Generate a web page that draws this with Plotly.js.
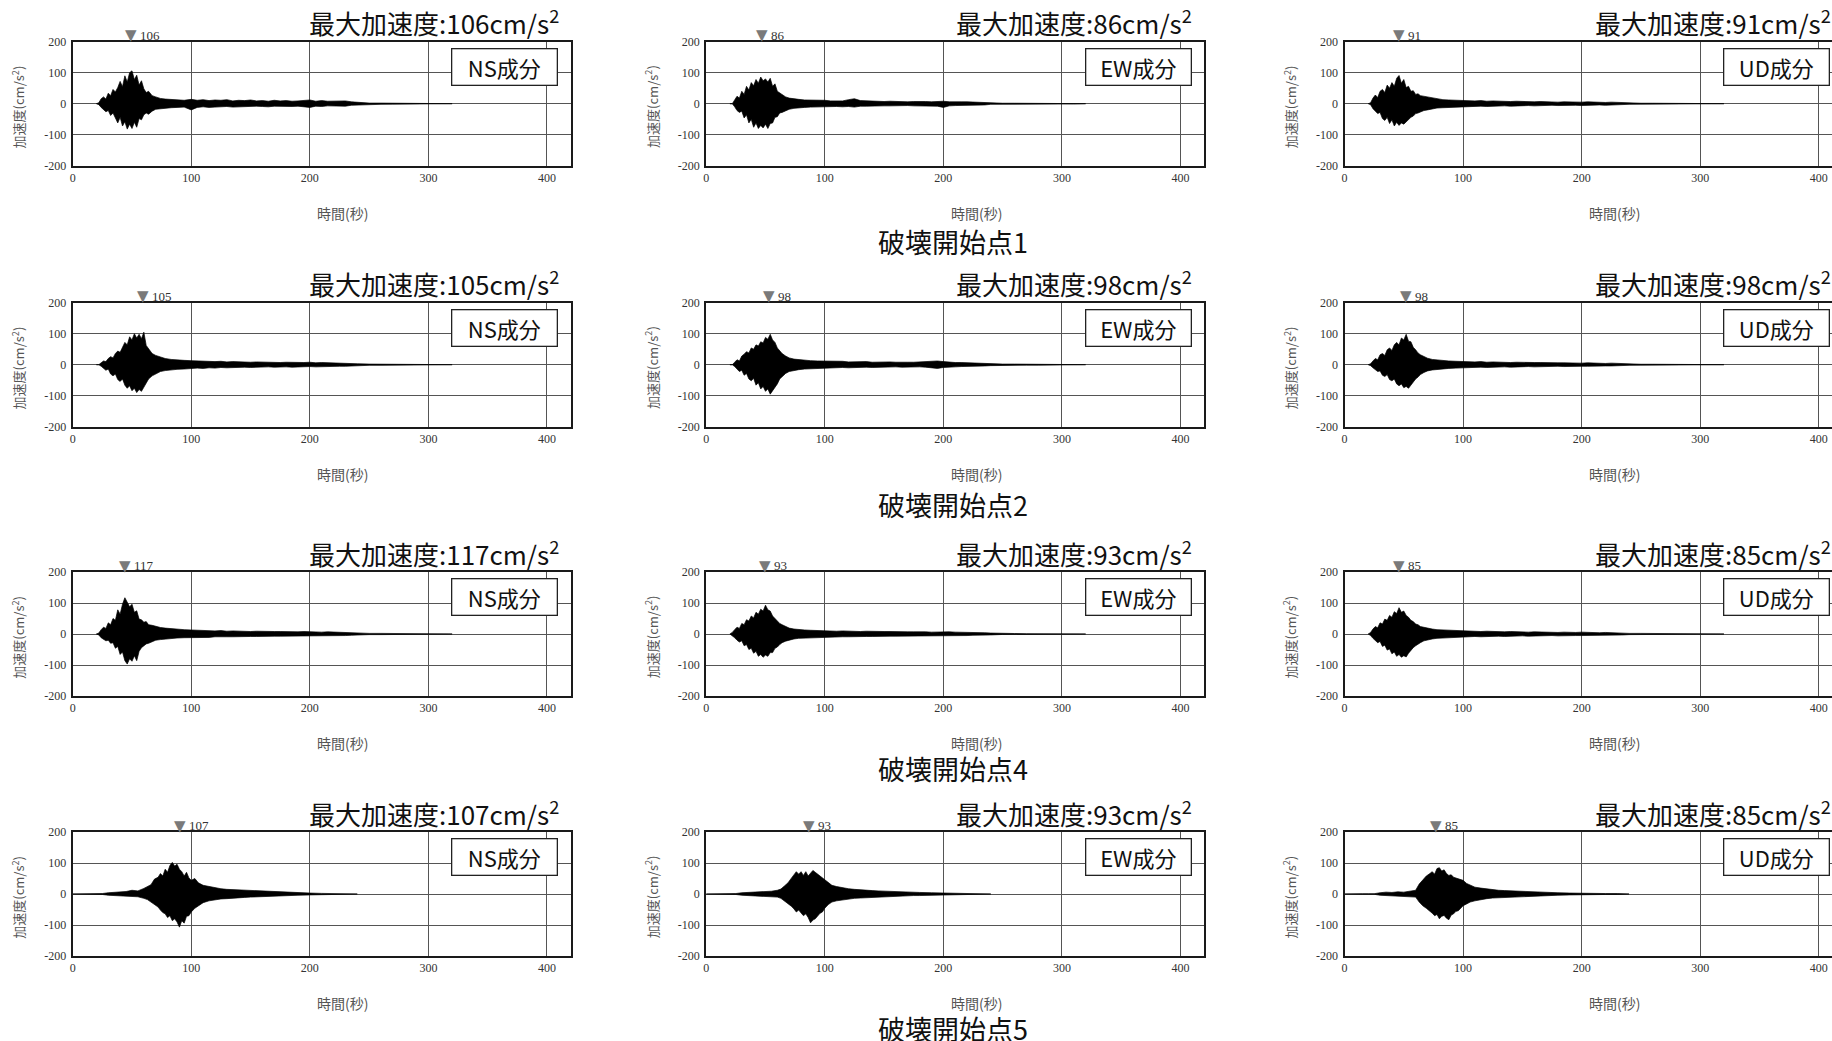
<!DOCTYPE html>
<html>
<head>
<meta charset="utf-8">
<script src="https://cdn.plot.ly/plotly-3.0.1.min.js"></script>
<style>
html,body{margin:0;padding:0;background:#fff;overflow:hidden;}
#chart{width:1860px;height:1041px;}
</style>
</head>
<body>
<div id="chart"></div>
<script>
// ---------------- data ----------------
const components = ["NS成分", "EW成分", "UD成分"];
const rupturePoints = ["破壊開始点1", "破壊開始点2", "破壊開始点4", "破壊開始点5"];
const pga = [[106, 86, 91], [105, 98, 98], [117, 93, 85], [107, 93, 85]];
const peakTime = [[49, 47, 46], [59, 53, 51.5], [44.4, 50, 45.6], [90.7, 86.4, 77.4]];
const xTicks = [0, 100, 200, 300, 400];
const yTicks = [-200, -100, 0, 100, 200];
const yTickText = ["-200", "-100", "0", "100", "200"];

// time grid (s) for rupture points 1, 2, 4
const tA = [20,22,24,26,28,30,32,34,36,38,40,42,44,46,48,50,52,54,56,58,60,62,64,
            67,70,74,78,83,88,94,
            100,105,110,115,120,125,130,135,140,145,150,155,160,165,170,175,180,185,190,195,200,205,210,215,220,225,230,235,240,
            250,260,270,280,290,300,310,320];
// time grid (s) for rupture point 5
const tB = [0,5,10,15,20,25,30,35,40,45,50,55,60,
            63,66,69,72,
            74,76,78,80,82,84,86,88,90,92,94,96,98,100,
            103,106,110,
            115,120,125,130,135,140,145,150,155,160,165,170,175,180,
            190,200,210,220,230,240];

// upper / lower envelope of acceleration (cm/s2), read from the records
const up_1_NS = [0,3,16,22,15,34,26,46,38,52,72,55,90,70,100,106,78,92,60,74,48,36,40,
  26,22,17,15,13,12,11,
  14,11,13,10,12,11,13,9,11,10,12,9,10,8,11,9,10,8,9,11,12,8,10,8,9,8,9,6,4,
  2,2,1.5,1.5,1,1,0.5,0];
const lo_1_NS = [0,-3,-12,-20,-26,-22,-38,-30,-48,-62,-44,-72,-58,-82,-66,-80,-60,-76,-48,-52,-36,-30,-34,
  -24,-18,-16,-14,-13,-12,-11,
  -20,-12,-10,-12,-11,-10,-9,-11,-10,-9,-10,-8,-9,-10,-8,-9,-8,-9,-8,-10,-12,-8,-9,-7,-8,-7,-8,-5,-4,
  -2,-2,-1.5,-1.5,-1,-1,-0.5,0];
const up_1_EW = [0,0,12,24,18,40,30,56,44,68,58,78,66,86,74,80,70,82,56,64,40,34,28,
  22,18,15,14,12,12,10,
  11,9,10,9,13,16,10,9,8,9,7,8,7,8,6,7,8,7,6,7,8,6,7,6,6,5,6,4,2,
  1.5,1.5,1.5,1,1,1,1,0];
const lo_1_EW = [0,0,-10,-22,-28,-24,-46,-36,-62,-50,-76,-62,-80,-70,-78,-66,-80,-64,-62,-44,-42,-30,-28,
  -22,-18,-15,-13,-12,-11,-10,
  -10,-9,-9,-10,-9,-11,-8,-8,-7,-8,-7,-7,-6,-7,-6,-7,-7,-6,-7,-8,-12,-7,-6,-6,-5,-6,-5,-4,-2,
  -1.5,-1.5,-1.5,-1,-1,-1,-1,0];
const up_1_UD = [0,3,18,28,20,40,46,36,60,50,68,56,82,91,66,78,52,56,40,42,30,32,26,
  24,20,17,15,13,12,11,
  11,10,9,10,8,9,8,8,7,8,7,7,6,7,6,6,5,6,5,6,5,6,5,5,4,5,4,3,2,
  1.5,1.5,1.5,1,1,1,1,0];
const lo_1_UD = [0,-3,-16,-24,-32,-28,-48,-54,-44,-64,-52,-72,-60,-70,-62,-66,-58,-52,-44,-40,-32,-30,-26,
  -22,-20,-16,-14,-13,-12,-11,
  -10,-9,-10,-8,-9,-8,-8,-7,-8,-7,-7,-6,-7,-6,-6,-5,-6,-5,-5,-5,-6,-5,-5,-4,-5,-4,-3,-3,-2,
  -1.5,-1.5,-1.5,-1,-1,-1,-1,0];

const up_2_NS = [0,0,6,12,10,20,26,22,36,44,40,58,72,64,90,80,100,86,98,84,105,62,50,
  36,30,24,20,17,15,14,
  13,12,11,12,10,11,9,10,9,10,8,9,8,9,8,7,8,7,8,7,8,6,7,6,6,5,5,4,3,
  2,2,1.5,1.5,1,1,1,0];
const lo_2_NS = [0,0,-5,-12,-18,-14,-30,-36,-30,-48,-54,-46,-66,-76,-68,-84,-76,-90,-80,-86,-72,-58,-46,
  -36,-30,-22,-19,-16,-15,-14,
  -12,-11,-12,-10,-11,-9,-10,-9,-9,-8,-9,-8,-8,-7,-8,-7,-7,-8,-7,-7,-6,-7,-6,-6,-5,-5,-5,-4,-3,
  -2,-2,-1.5,-1.5,-1,-1,-1,0];
const up_2_EW = [0,0,8,16,12,28,34,42,38,54,50,64,60,74,70,88,82,98,80,72,54,44,36,
  28,22,18,16,14,13,12,
  12,11,10,11,9,10,9,10,8,9,8,9,8,9,8,8,9,8,10,12,10,8,7,7,6,6,5,4,3,
  2,2,1.5,1.5,1,1,0,0];
const lo_2_EW = [0,0,-6,-14,-22,-18,-34,-28,-46,-52,-44,-66,-58,-78,-70,-86,-78,-95,-84,-74,-62,-46,-38,
  -28,-22,-18,-16,-14,-13,-12,
  -11,-10,-11,-9,-10,-9,-9,-8,-9,-8,-8,-8,-7,-8,-7,-8,-7,-8,-9,-12,-9,-7,-7,-6,-6,-5,-5,-4,-3,
  -2,-2,-1.5,-1.5,-1,-1,0,0];
const up_2_UD = [0,3,12,20,16,32,36,30,48,54,46,64,72,64,86,80,98,76,74,56,48,38,32,
  26,21,17,15,13,12,11,
  10,11,9,10,8,9,8,9,7,8,7,8,7,7,6,7,6,6,5,6,5,6,5,5,4,5,4,3,2,
  1.5,1.5,1,1,1,0,0,0];
const lo_2_UD = [0,-3,-10,-16,-22,-20,-34,-38,-32,-48,-52,-46,-62,-68,-62,-74,-70,-76,-66,-58,-46,-40,-32,
  -25,-20,-17,-15,-13,-12,-11,
  -10,-9,-10,-8,-9,-8,-8,-7,-8,-7,-7,-6,-7,-6,-6,-6,-5,-6,-5,-5,-5,-5,-4,-5,-4,-4,-3,-3,-2,
  -1.5,-1.5,-1,-1,-1,0,0,0];

const up_4_NS = [0,3,14,22,18,36,30,50,44,78,64,96,117,100,88,96,70,75,48,46,38,40,30,
  28,24,21,19,17,15,14,
  13,12,11,12,10,11,9,10,9,10,8,9,8,9,8,8,7,8,7,8,7,7,6,7,6,6,5,5,3,
  2,2,1.5,1.5,1,1,1,0];
const lo_4_NS = [0,-3,-12,-18,-22,-20,-30,-28,-46,-40,-66,-58,-86,-97,-80,-88,-70,-86,-56,-44,-38,-32,-30,
  -24,-20,-18,-16,-14,-13,-12,
  -12,-11,-10,-11,-9,-10,-9,-9,-8,-9,-8,-8,-7,-8,-7,-7,-7,-6,-7,-6,-6,-7,-6,-6,-5,-5,-5,-4,-3,
  -2,-2,-1.5,-1.5,-1,-1,-1,0];
const up_4_EW = [0,5,14,22,18,34,30,46,42,58,52,70,64,80,74,93,78,74,58,50,40,34,30,
  24,19,16,14,13,12,11,
  11,10,9,10,9,10,8,9,8,9,8,8,7,8,7,7,8,7,6,7,6,7,6,6,5,5,4,4,3,
  1.5,1.5,1,1,1,1,0,0];
const lo_4_EW = [0,-5,-12,-20,-26,-22,-38,-34,-50,-46,-62,-56,-72,-66,-75,-68,-72,-60,-60,-46,-42,-34,-28,
  -23,-19,-16,-14,-13,-12,-11,
  -10,-9,-10,-9,-9,-8,-9,-8,-8,-7,-8,-7,-7,-7,-6,-7,-6,-7,-6,-6,-6,-5,-6,-5,-5,-4,-4,-3,-3,
  -1.5,-1.5,-1,-1,-1,-1,0,0];
const up_4_UD = [0,5,16,24,20,36,32,48,44,60,54,72,66,85,70,74,60,54,44,40,32,30,24,
  21,18,16,14,13,12,11,
  10,9,10,8,9,8,8,7,8,7,7,6,7,6,6,6,5,6,5,5,6,5,5,4,5,4,4,3,2,
  2,1.5,1.5,1,1,1,1,0];
const lo_4_UD = [0,-5,-14,-22,-28,-24,-40,-36,-52,-48,-64,-58,-72,-66,-75,-70,-74,-62,-52,-44,-38,-32,-28,
  -22,-19,-16,-14,-13,-12,-11,
  -9,-10,-8,-9,-8,-8,-7,-8,-7,-7,-6,-7,-6,-6,-6,-5,-6,-5,-5,-5,-5,-5,-4,-4,-4,-4,-3,-3,-2,
  -2,-1.5,-1.5,-1,-1,-1,-1,0];

const up_5_NS = [0,0,1,1,1,1.5,4,5,6,8,12,10,18,
  24,30,48,54,
  66,58,80,70,92,102,90,96,80,72,58,70,52,44,
  50,36,28,
  24,20,17,15,14,13,12,11,10,9,8,7,6,5,
  4,3,2,1.5,1,0];
const lo_5_NS = [0,0,-1,-1,-1,-1.5,-4,-5,-6,-7,-10,-9,-14,
  -18,-26,-34,-42,
  -52,-60,-64,-76,-70,-86,-80,-90,-107,-86,-94,-72,-70,-58,
  -46,-38,-28,
  -22,-18,-16,-15,-13,-12,-11,-10,-9,-8,-7,-6,-5,-5,
  -4,-3,-2,-1.5,-1,0];
const up_5_EW = [0,0,0,1,1,1.5,4,5,6,6,8,9,12,
  16,26,36,52,
  62,72,64,72,60,72,58,66,76,70,64,56,50,46,
  36,28,24,
  20,17,15,13,12,11,10,9,8,7,6,6,5,5,
  4,3,2,1.5,1.5,0];
const lo_5_EW = [0,0,0,-1,-1,-1.5,-4,-5,-6,-6,-7,-8,-10,
  -14,-22,-30,-40,
  -48,-58,-52,-62,-70,-64,-76,-93,-84,-80,-72,-62,-58,-46,
  -34,-26,-22,
  -19,-16,-14,-13,-12,-10,-9,-8,-8,-7,-6,-6,-5,-5,
  -4,-3,-2,-1.5,-1.5,0];
const up_5_UD = [0,1,1,1,1,1,4,6,5,7,6,9,12,
  32,46,58,66,
  72,64,82,85,74,78,66,60,62,54,52,48,46,44,
  34,28,22,
  19,16,14,12,11,10,9,8,7,6,6,5,4,4,
  3,2,2,1.5,1.5,0];
const lo_5_UD = [0,-1,-1,-1,-1,-1,-4,-5,-6,-6,-7,-8,-10,
  -26,-38,-46,-54,
  -62,-70,-66,-80,-72,-69,-78,-83,-68,-64,-56,-54,-46,-38,
  -32,-26,-22,
  -18,-15,-13,-12,-11,-10,-9,-8,-7,-6,-5,-5,-4,-4,
  -3,-2,-2,-1.5,-1.5,0];

const series = [
  [[tA, up_1_NS, lo_1_NS], [tA, up_1_EW, lo_1_EW], [tA, up_1_UD, lo_1_UD]],
  [[tA, up_2_NS, lo_2_NS], [tA, up_2_EW, lo_2_EW], [tA, up_2_UD, lo_2_UD]],
  [[tA, up_4_NS, lo_4_NS], [tA, up_4_EW, lo_4_EW], [tA, up_4_UD, lo_4_UD]],
  [[tB, up_5_NS, lo_5_NS], [tB, up_5_EW, lo_5_EW], [tB, up_5_UD, lo_5_UD]]
];

// ---------------- layout geometry (px) ----------------
const W = 1860, H = 1041;
const colLeft = [72.7, 706.2, 1344.5];
const rowTop = [41.7, 302.7, 572, 832];
const plotW = 498, plotH = 124;
const rowLabelY = [241, 504, 768, 1028];
const px = x => x / W;
const py = y => 1 - y / H;

const JP = "Noto Sans CJK JP, Noto Sans, sans-serif";
const SERIF = "Liberation Serif, DejaVu Serif, serif";

const traces = [];
const layout = {
  width: W, height: H,
  margin: {l: 0, r: 0, t: 0, b: 0},
  paper_bgcolor: "#fff", plot_bgcolor: "#fff",
  showlegend: false,
  annotations: []
};

for (let r = 0; r < 4; r++) {
  for (let c = 0; c < 3; c++) {
    const k = r * 3 + c + 1;
    const xa = "x" + k, ya = "y" + k;
    const L = colLeft[c], T = rowTop[r];
    const [t, up, lo] = series[r][c];

    layout["xaxis" + k] = {
      domain: [px(L), px(L + plotW)], anchor: ya,
      range: [0, 420], tickvals: xTicks, ticks: "",
      showgrid: true, gridcolor: "#555", gridwidth: 1,
      zeroline: false,
      showline: true, mirror: true, linecolor: "#1a1a1a", linewidth: 2,
      tickfont: {family: SERIF, size: 12, color: "#333"},
      fixedrange: true
    };
    layout["yaxis" + k] = {
      domain: [py(T + plotH), py(T)], anchor: xa,
      range: [-200, 200], tickvals: yTicks, ticktext: yTickText, ticks: "",
      showgrid: true, gridcolor: "#555", gridwidth: 1,
      zeroline: false,
      showline: true, mirror: true, linecolor: "#1a1a1a", linewidth: 2,
      tickfont: {family: SERIF, size: 12, color: "#333"},
      ticklabelstandoff: 2,
      fixedrange: true
    };

    traces.push({
      type: "scatter", mode: "lines", x: t, y: lo, xaxis: xa, yaxis: ya,
      line: {color: "#000", width: 0.7}, hoverinfo: "skip"
    });
    traces.push({
      type: "scatter", mode: "lines", x: t, y: up, xaxis: xa, yaxis: ya,
      line: {color: "#000", width: 0.7}, fill: "tonexty", fillcolor: "#000",
      hoverinfo: "skip"
    });

    // peak marker (triangle + value) placed on the time axis
    layout.annotations.push({
      xref: xa, yref: "paper", x: peakTime[r][c], y: py(T - 6.5),
      xanchor: "center", yanchor: "middle", showarrow: false,
      text: "▼", font: {family: "DejaVu Sans, sans-serif", size: 15, color: "#7a7a7a"}
    });
    layout.annotations.push({
      xref: xa, yref: "paper", x: peakTime[r][c], xshift: 7, y: py(T - 6.5),
      xanchor: "left", yanchor: "middle", showarrow: false,
      text: String(pga[r][c]), font: {family: SERIF, size: 13, color: "#333"}
    });

    // title: max acceleration
    layout.annotations.push({
      xref: "paper", yref: "paper", x: px(L + plotW - 10), y: py(T - 20),
      xanchor: "right", yanchor: "middle", showarrow: false,
      text: "最大加速度:" + pga[r][c] + "cm/s<sup>2</sup>",
      font: {family: JP, size: 26, color: "#111"}
    });
    // component box
    layout.annotations.push({
      xref: "paper", yref: "paper", x: px(L + plotW - 66), y: py(T + 25.3),
      xanchor: "center", yanchor: "middle", showarrow: false,
      text: components[c], width: 104, height: 35, borderpad: 0,
      bordercolor: "#222", borderwidth: 1.3, bgcolor: "#fff",
      font: {family: JP, size: 22, color: "#111"}
    });
    // y axis title
    layout.annotations.push({
      xref: "paper", yref: "paper", x: px(L - 55), y: py(T + plotH / 2 + 3),
      xanchor: "center", yanchor: "middle", showarrow: false, textangle: -90,
      text: "加速度(cm/s<sup>2</sup>)",
      font: {family: JP, size: 13, color: "#555"}
    });
    // x axis title
    layout.annotations.push({
      xref: "paper", yref: "paper", x: px(L + 270), y: py(T + 171),
      xanchor: "center", yanchor: "middle", showarrow: false,
      text: "時間(秒)",
      font: {family: JP, size: 14, color: "#555"}
    });
  }
  // rupture point label
  layout.annotations.push({
    xref: "paper", yref: "paper", x: px(953), y: py(rowLabelY[r]),
    xanchor: "center", yanchor: "middle", showarrow: false,
    text: rupturePoints[r],
    font: {family: JP, size: 27, color: "#111"}
  });
}

Plotly.newPlot("chart", traces, layout, {staticPlot: true, displayModeBar: false});
</script>
</body>
</html>
